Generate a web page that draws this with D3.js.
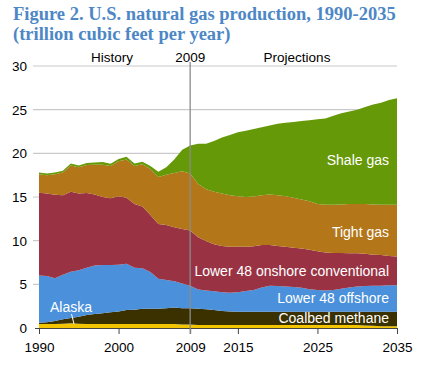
<!DOCTYPE html>
<html><head><meta charset="utf-8">
<script src="https://cdn.jsdelivr.net/npm/d3@7/dist/d3.min.js"></script>
<style>
html,body{margin:0;padding:0;background:#fff;}
svg{display:block;}
</style></head>
<body>
<svg id="chart" width="421" height="368"></svg>
<script>
const years = d3.range(1990, 2036);
const alaska = [.45,.45,.45,.5,.55,.5,.45,.45,.45,.45,.45,.45,.45,.45,.45,.45,.45,.45,.4,.4,
  .35,.35,.35,.35,.35,.35,.35,.35,.35,.35,.35,.35,.35,.35,.35,.35,.35,.35,.35,.35,.35,
  .3,.25,.2,.2,.2];
const coalbed = [.15,.2,.35,.5,.6,.8,1.05,1.15,1.25,1.35,1.45,1.6,1.65,1.75,1.75,1.75,1.8,1.9,1.85,1.85,
  1.85,1.8,1.7,1.6,1.55,1.5,1.5,1.5,1.5,1.5,1.5,1.5,1.5,1.5,1.5,1.5,1.5,1.5,1.5,1.5,1.5,
  1.55,1.6,1.65,1.65,1.65];
const offshore = [5.4,5.3,4.9,5.1,5.3,5.3,5.4,5.55,5.5,5.4,5.35,5.3,4.8,4.65,4.2,3.45,3.25,3.0,2.85,2.6,
  2.2,2.15,2.15,2.15,2.15,2.25,2.4,2.5,2.8,3.0,2.95,2.9,2.85,2.75,2.6,2.5,2.45,2.5,2.65,2.8,2.9,
  2.95,3.0,3.0,3.05,3.05];
const onshore = [9.5,9.45,9.55,9.1,9.15,8.8,8.55,8.15,7.8,7.65,7.85,7.55,7.3,7.05,6.55,6.25,6.3,6.2,6.25,6.3,
  6.0,5.65,5.4,5.3,5.25,5.2,5.05,5.0,4.85,4.65,4.6,4.55,4.5,4.5,4.5,4.45,4.35,4.25,4.1,3.9,3.8,
  3.7,3.55,3.5,3.35,3.3];
const tight = [2.1,2.1,2.35,2.6,3.0,3.0,3.2,3.4,3.7,3.7,4.0,4.4,4.35,4.85,5.25,5.4,5.75,6.2,6.6,6.55,
  6.1,5.95,6.0,6.0,5.9,5.8,5.7,5.7,5.7,5.8,5.8,5.8,5.7,5.6,5.55,5.4,5.45,5.5,5.55,5.65,5.65,
  5.7,5.75,5.75,5.85,5.9];
const shale = [.2,.2,.2,.2,.25,.2,.25,.25,.3,.25,.25,.3,.3,.3,.35,.6,.85,1.55,2.45,3.2,
  4.6,5.2,5.8,6.4,6.9,7.3,7.6,7.75,7.8,7.9,8.2,8.4,8.7,9.0,9.3,9.7,9.9,10.2,10.45,10.6,10.8,
  11.1,11.45,11.7,12.0,12.2];

const seriesNames = ["Alaska","Coalbed methane","Lower 48 offshore","Lower 48 onshore conventional","Tight gas","Shale gas"];
const seriesValues = [alaska, coalbed, offshore, onshore, tight, shale];
const seriesColors = ["#f2c500","#3a3000","#4a90da","#993344","#b3771a","#669908"];
const yTicks = [0,5,10,15,20,25,30];
const xTickYears = [1990,2000,2009,2015,2025,2035];
const titleLines = ["Figure 2. U.S. natural gas production, 1990-2035","(trillion cubic feet per year)"];

const rows = years.map((y,i)=>{
  const r = {year:y};
  seriesNames.forEach((n,k)=>r[n]=seriesValues[k][i]);
  return r;
});

const svg = d3.select("#chart");
const x = d3.scaleLinear().domain([1990,2035]).range([39,397]);
const y = d3.scaleLinear().domain([0,30]).range([328,66]);

// title
svg.append("g").selectAll("text").data(titleLines).join("text")
  .attr("x",13).attr("y",(d,i)=>20+i*20)
  .attr("font-family","'Liberation Serif','Times New Roman',serif")
  .attr("font-weight","bold").attr("font-size",18.5)
  .attr("fill","#4d87c6").text(d=>d);

// gridlines
svg.append("g").selectAll("line").data(yTicks.filter(d=>d>0)).join("line")
  .attr("x1",33).attr("x2",397).attr("y1",d=>y(d)).attr("y2",d=>y(d))
  .attr("stroke","#c9c9c9").attr("stroke-width",1.2);

// y labels
svg.append("g").selectAll("text").data(yTicks).join("text")
  .attr("x",27).attr("y",d=>y(d)+5).attr("text-anchor","end")
  .attr("font-family","'Liberation Sans',Arial,sans-serif").attr("font-size",13.5)
  .attr("fill","#000").text(d=>d);

// stacked areas
const stack = d3.stack().keys(seriesNames);
const layers = stack(rows);
const area = d3.area().x(d=>x(d.data.year)).y0(d=>y(d[0])).y1(d=>y(d[1]));
svg.append("g").selectAll("path").data(layers).join("path")
  .attr("d",area).attr("fill",(d,i)=>seriesColors[i]);

// x axis
const xAxis = d3.axisBottom(x).tickValues(xTickYears).tickFormat(d3.format("d")).tickSize(6).tickPadding(6);
const gx = svg.append("g").attr("transform","translate(0,328)").call(xAxis);
gx.select(".domain").attr("d","M35,0.5H397").attr("stroke","#444");
gx.selectAll(".tick line").attr("stroke","#444");
gx.selectAll(".tick text").attr("font-family","'Liberation Sans',Arial,sans-serif")
  .attr("font-size",13.5).attr("fill","#000").attr("dy","0.9em");

// 2009 line
svg.append("line").attr("x1",x(2009)).attr("x2",x(2009)).attr("y1",62).attr("y2",334)
  .attr("stroke","#8a8a8a").attr("stroke-width",1.3);

// header labels
const headers = [{t:"History",x:112},{t:"2009",x:x(2009)},{t:"Projections",x:297}];
svg.append("g").selectAll("text").data(headers).join("text")
  .attr("x",d=>d.x).attr("y",62).attr("text-anchor","middle")
  .attr("font-family","'Liberation Sans',Arial,sans-serif").attr("font-size",13.5)
  .attr("fill","#000").text(d=>d.t);

// series labels
const labelPos = [
  {n:"Shale gas",y:165},{n:"Tight gas",y:237},{n:"Lower 48 onshore conventional",y:276},
  {n:"Lower 48 offshore",y:303},{n:"Coalbed methane",y:323}];
svg.append("g").selectAll("text").data(labelPos).join("text")
  .attr("x",389).attr("y",d=>d.y).attr("text-anchor","end")
  .attr("font-family","'Liberation Sans',Arial,sans-serif").attr("font-size",14)
  .attr("fill","#fff").text(d=>d.n);
svg.append("text").attr("x",50).attr("y",312)
  .attr("font-family","'Liberation Sans',Arial,sans-serif").attr("font-size",14)
  .attr("fill","#fff").text(seriesNames[0]);
svg.append("line").attr("x1",71.5).attr("y1",314).attr("x2",74).attr("y2",324)
  .attr("stroke","#fff").attr("stroke-width",1);
</script>
</body></html>
